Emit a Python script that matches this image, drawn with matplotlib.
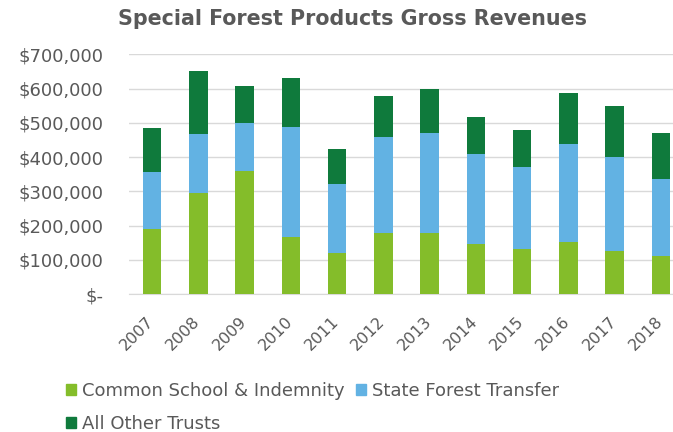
import matplotlib
matplotlib.use("Agg")
import matplotlib.pyplot as plt
import matplotlib.transforms as mtransforms
from matplotlib.ticker import FuncFormatter
from matplotlib.patches import Patch
import numpy as np

years = ["2007", "2008", "2009", "2010", "2011", "2012", "2013", "2014", "2015", "2016", "2017", "2018"]
common_school = [189000, 296000, 360000, 167000, 119000, 179000, 177000, 146000, 131000, 153000, 126000, 111000]
state_forest = [168000, 170000, 139000, 320000, 201000, 280000, 294000, 262000, 240000, 286000, 274000, 224000]
other_trusts = [127000, 186000, 107000, 145000, 102000, 120000, 129000, 109000, 109000, 147000, 148000, 135000]
series_names = ["Common School & Indemnity", "State Forest Transfer", "All Other Trusts"]
colors = ["#84bd2a", "#62b2e3", "#0f7a3c"]
yticks = [0, 100000, 200000, 300000, 400000, 500000, 600000, 700000]

plt.rcParams["font.family"] = ["DejaVu Sans"]
W, H = 673, 432
fig = plt.figure(figsize=(W / 100, H / 100), dpi=100)
left, right, top, bottom = 129, 684, 54.3, 294
ax = fig.add_axes([left / W, 1 - bottom / H, (right - left) / W, (bottom - top) / H])

x = np.arange(len(years))
cs = np.array(common_school)
sf = np.array(state_forest)
ot = np.array(other_trusts)
bw = 0.4
ax.bar(x, cs, bw, color=colors[0], zorder=3)
ax.bar(x, sf, bw, bottom=cs, color=colors[1], zorder=3)
ax.bar(x, ot, bw, bottom=cs + sf, color=colors[2], zorder=3)

ax.set_xlim(-0.5, len(years) - 0.5)
ax.set_ylim(0, 700000)
ax.set_yticks(yticks)
ax.yaxis.set_major_formatter(FuncFormatter(lambda v, p: "$-" if v == 0 else "${:,.0f}".format(v)))
ax.grid(axis="y", color="#d9d9d9", linewidth=1, zorder=0)
for s in ["top", "right", "left"]:
    ax.spines[s].set_visible(False)
ax.spines["bottom"].set_color("#d9d9d9")
ax.tick_params(axis="both", length=0, colors="#595959")
ax.tick_params(axis="y", pad=18.7, labelsize=13)
ax.set_xticks(x)
ax.set_xticklabels(years, rotation=45, ha="right", rotation_mode="anchor")
ax.tick_params(axis="x", pad=14, labelsize=11.5)
offset = mtransforms.ScaledTranslation(-6 / 100, 0, fig.dpi_scale_trans)
for lab in ax.get_xticklabels():
    lab.set_transform(lab.get_transform() + offset)

fig.text(352 / W, 1 - 19 / H, "Special Forest Products Gross Revenues", ha="center", va="center",
         fontsize=14.9, fontweight="bold", color="#595959")

handles = [Patch(color=c) for c in colors]
fig.legend(handles[:2], series_names[:2], loc="center left", bbox_to_anchor=(66 / W, 1 - 391 / H),
           ncol=2, frameon=False, fontsize=13, handlelength=0.55, handleheight=0.55,
           handletextpad=0.33, columnspacing=0.63, labelcolor="#595959", borderaxespad=0, borderpad=0)
fig.legend(handles[2:], series_names[2:], loc="center left", bbox_to_anchor=(66 / W, 1 - 424 / H),
           ncol=1, frameon=False, fontsize=13, handlelength=0.55, handleheight=0.55,
           handletextpad=0.33, labelcolor="#595959", borderaxespad=0, borderpad=0)

fig.savefig("out.png", dpi=100)
